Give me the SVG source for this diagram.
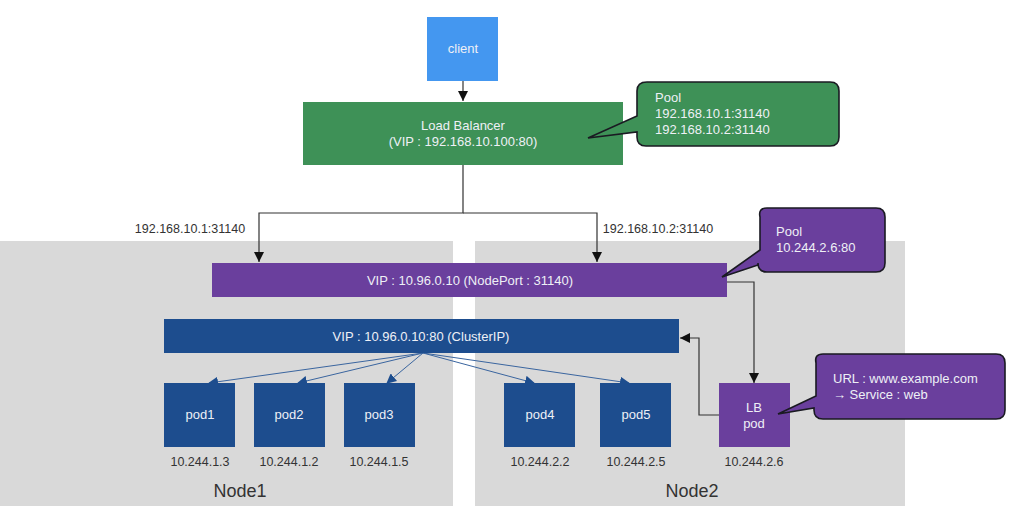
<svg xmlns="http://www.w3.org/2000/svg" width="1024" height="521" viewBox="0 0 1024 521">
<defs>
<style>
.t{font-family:"Liberation Sans","Noto Sans",sans-serif;font-size:13px;text-anchor:middle}
.w{fill:#eef0f6}
.d{fill:#333}
.l{font-family:"Liberation Sans","Noto Sans",sans-serif;font-size:13px;fill:#eef0f6}
.conn{fill:none;stroke:#333;stroke-width:1.2}
.fan{fill:none;stroke:#3a659f;stroke-width:1}
.call{stroke:#1a1a22;stroke-width:1.6}
</style>
<marker id="ah" viewBox="0 0 10 10" refX="10" refY="5" markerWidth="10" markerHeight="10" markerUnits="userSpaceOnUse" orient="auto"><path d="M0,0 L10,5 L0,10 z" fill="#111"/></marker>
<marker id="bh" viewBox="0 0 10 10" refX="9" refY="5" markerWidth="10" markerHeight="10" markerUnits="userSpaceOnUse" orient="auto"><path d="M0,0 L10,5 L0,10 z" fill="#1d4d8e"/></marker>
</defs>
<rect width="1024" height="521" fill="#fff"/>
<g id="node1-area"><rect x="0" y="241" width="453" height="265" fill="#d9d9d9"/><text x="240" y="497" class="t d" style="font-size:18px">Node1</text></g>
<g id="node2-area"><rect x="475" y="241" width="430" height="265" fill="#d9d9d9"/><text x="692" y="497" class="t d" style="font-size:18px">Node2</text></g>
<g id="connectors">
<line x1="463" y1="81" x2="463" y2="101" class="conn" marker-end="url(#ah)"/>
<polyline points="463,165 463,213 259,213 259,262" class="conn" marker-end="url(#ah)"/>
<polyline points="463,213 597,213 597,262" class="conn" marker-end="url(#ah)"/>
<polyline points="727,282 754,282 754,383" class="conn" marker-end="url(#ah)"/>
<polyline points="719,415 699,415 699,338 680,338" class="conn" marker-end="url(#ah)"/>
<line x1="423" y1="353" x2="209" y2="383" class="fan" marker-end="url(#bh)"/>
<line x1="423" y1="353" x2="298" y2="383" class="fan" marker-end="url(#bh)"/>
<line x1="423" y1="353" x2="387" y2="383" class="fan" marker-end="url(#bh)"/>
<line x1="423" y1="353" x2="534" y2="383" class="fan" marker-end="url(#bh)"/>
<line x1="423" y1="353" x2="629" y2="383" class="fan" marker-end="url(#bh)"/>
</g>
<g id="label-ip1"><text x="190" y="233" class="t d" style="font-size:12.5px">192.168.10.1:31140</text></g>
<g id="label-ip2"><text x="658" y="233" class="t d" style="font-size:12.5px">192.168.10.2:31140</text></g>
<g id="client"><rect x="427" y="17" width="71" height="64" fill="#4497f0"/><text x="463" y="53" class="t w">client</text></g>
<g id="load-balancer"><rect x="303" y="102" width="320" height="63" fill="#3e9157"/><text x="463" y="130" class="t w">Load Balancer</text><text x="463" y="146" class="t w">(VIP : 192.168.10.100:80)</text></g>
<g id="pool-callout"><path d="M647,82 H830 Q839,82 839,91 V137 Q839,146 830,146 H646 Q637,146 637,137 V132 L588,138 L637,116 V91 Q637,82 647,82 Z" fill="#3e9157" class="call"/><text x="655" y="102" class="l">Pool</text><text x="655" y="118" class="l">192.168.10.1:31140</text><text x="655" y="134" class="l">192.168.10.2:31140</text></g>
<g id="nodeport"><rect x="212" y="263" width="515" height="34" fill="#6a3f9d"/><text x="470" y="285" class="t w">VIP : 10.96.0.10 (NodePort : 31140)</text></g>
<g id="pool2-callout"><path d="M767,208 H876 Q885,208 885,217 V263 Q885,272 876,272 H767 Q758,272 758,263 V265 L722,277 L760,250 V217 Q758,208 767,208 Z" fill="#6a3f9d" class="call"/><text x="776" y="236" class="l">Pool</text><text x="776" y="252" class="l">10.244.2.6:80</text></g>
<g id="clusterip"><rect x="164" y="319" width="515" height="34" fill="#1d4d8e"/><text x="421" y="341" class="t w">VIP : 10.96.0.10:80 (ClusterIP)</text></g>
<g id="pod1"><rect x="164" y="383" width="71" height="64" fill="#1d4d8e"/><text x="200" y="419" class="t w">pod1</text><text x="200" y="466" class="t d" style="font-size:12.5px">10.244.1.3</text></g>
<g id="pod2"><rect x="254" y="383" width="71" height="64" fill="#1d4d8e"/><text x="289" y="419" class="t w">pod2</text><text x="289" y="466" class="t d" style="font-size:12.5px">10.244.1.2</text></g>
<g id="pod3"><rect x="344" y="383" width="71" height="64" fill="#1d4d8e"/><text x="379" y="419" class="t w">pod3</text><text x="379" y="466" class="t d" style="font-size:12.5px">10.244.1.5</text></g>
<g id="pod4"><rect x="504" y="383" width="71" height="64" fill="#1d4d8e"/><text x="540" y="419" class="t w">pod4</text><text x="540" y="466" class="t d" style="font-size:12.5px">10.244.2.2</text></g>
<g id="pod5"><rect x="600" y="383" width="71" height="64" fill="#1d4d8e"/><text x="636" y="419" class="t w">pod5</text><text x="636" y="466" class="t d" style="font-size:12.5px">10.244.2.5</text></g>
<g id="lb-pod"><rect x="719" y="383" width="71" height="64" fill="#6a3f9d"/><text x="754" y="412" class="t w">LB</text><text x="754" y="428" class="t w">pod</text><text x="754" y="466" class="t d" style="font-size:12.5px">10.244.2.6</text></g>
<g id="url-callout"><path d="M823,354 H996 Q1005,354 1005,363 V410 Q1005,419 996,419 H823 Q814,419 814,410 V408 L778,414 L816,396 V363 Q814,354 823,354 Z" fill="#6a3f9d" class="call"/><text x="833" y="383" class="l">URL : www.example.com</text><text x="833" y="399" class="l">→ Service : web</text></g>
</svg>
